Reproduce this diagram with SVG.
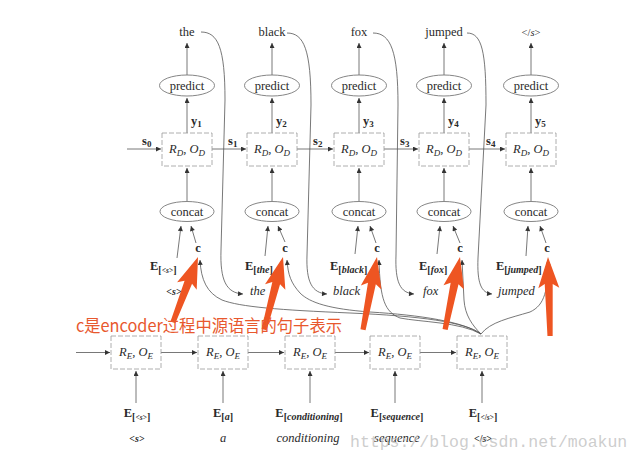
<svg xmlns="http://www.w3.org/2000/svg" width="640" height="463" viewBox="0 0 640 463">
<defs>
<marker id="ah" viewBox="0 0 10 10" refX="10" refY="5" markerWidth="6" markerHeight="5" orient="auto" markerUnits="userSpaceOnUse"><path d="M0,0 L10,5 L0,10 z" fill="#333"/></marker>
<style>
.t{font-family:"Liberation Serif",serif;font-size:12.5px;fill:#2a2a2a}
.it{font-style:italic}
.b{font-weight:bold}
.sub{font-size:9px}
.esub{font-size:10px}
.ln{stroke:#666;stroke-width:0.8;fill:none}
.ar{stroke:#555;stroke-width:0.8;fill:none;marker-end:url(#ah)}
.el{fill:#fff;stroke:#777;stroke-width:0.9}
.bx{fill:#fff;stroke:#999;stroke-width:0.8;stroke-dasharray:5 2}
.oa{fill:#ee5522}
</style>
</defs>
<rect width="640" height="463" fill="#fff"/>

<g id="connectors">
<line class="ar" x1="187" y1="75" x2="187" y2="43"/>
<line class="ar" x1="272" y1="75" x2="272" y2="43"/>
<line class="ar" x1="359" y1="75" x2="359" y2="43"/>
<line class="ar" x1="444" y1="75" x2="444" y2="43"/>
<line class="ar" x1="531" y1="75" x2="531" y2="43"/>
<line class="ar" x1="187" y1="133" x2="187" y2="98"/>
<line class="ar" x1="272" y1="133" x2="272" y2="98"/>
<line class="ar" x1="359" y1="133" x2="359" y2="98"/>
<line class="ar" x1="444" y1="133" x2="444" y2="98"/>
<line class="ar" x1="531" y1="133" x2="531" y2="98"/>
<line class="ar" x1="187" y1="201" x2="187" y2="168"/>
<line class="ar" x1="272" y1="201" x2="272" y2="168"/>
<line class="ar" x1="359" y1="201" x2="359" y2="168"/>
<line class="ar" x1="444" y1="201" x2="444" y2="168"/>
<line class="ar" x1="531" y1="201" x2="531" y2="168"/>
<line class="ar" x1="127" y1="149" x2="161" y2="149"/>
<line class="ar" x1="212" y1="149" x2="246" y2="149"/>
<line class="ar" x1="297" y1="149" x2="333" y2="149"/>
<line class="ar" x1="384" y1="149" x2="418" y2="149"/>
<line class="ar" x1="469" y1="149" x2="505" y2="149"/>
<line class="ar" x1="177" y1="258" x2="181" y2="226"/>
<line class="ar" x1="196" y1="243" x2="191" y2="226"/>
<line class="ar" x1="265" y1="256" x2="268" y2="226"/>
<line class="ar" x1="285" y1="242" x2="278" y2="226"/>
<line class="ar" x1="355" y1="254" x2="358" y2="226"/>
<line class="ar" x1="376" y1="243" x2="370" y2="226"/>
<line class="ar" x1="437" y1="254" x2="440" y2="226"/>
<line class="ar" x1="460" y1="243" x2="453" y2="226"/>
<line class="ar" x1="526" y1="256" x2="528" y2="226"/>
<line class="ar" x1="546" y1="243" x2="540" y2="226"/>
<path class="ar" d="M201,32 C218,32 225,48 225,100 L221,250 C220,280 226,293 243,294"/>
<path class="ar" d="M287,33 C304,33 311,50 311,105 L307,255 C306,282 312,293 327,294"/>
<path class="ar" d="M373,33 C391,33 398,52 398,105 L396,255 C395,282 400,293 414,294"/>
<path class="ar" d="M467,33 C482,33 486,52 486,105 L478,258 C477,283 481,293 492,294"/>
<path class="ar" d="M481,334 C465,322 420,316 350,313 C280,310 240,307 222,300 C207,293 201,280 200,260"/>
<path class="ar" d="M481,334 C465,322 420,315 370,312 C330,309 310,303 300,293 C291,283 288,275 287,260"/>
<path class="ar" d="M481,334 C460,322 420,322 400,318 C385,312 380,300 379,260"/>
<path class="ar" d="M481,334 C472,325 465,315 464,300 L462,260"/>
<path class="ar" d="M481,334 C490,322 510,318 530,312 C545,305 548,290 548,260"/>
<line class="ar" x1="76" y1="352.5" x2="110" y2="352.5"/>
<line class="ar" x1="161" y1="352.5" x2="197" y2="352.5"/>
<line class="ar" x1="248" y1="352.5" x2="284" y2="352.5"/>
<line class="ar" x1="335" y1="352.5" x2="369" y2="352.5"/>
<line class="ar" x1="420" y1="352.5" x2="456" y2="352.5"/>
<line class="ar" x1="136" y1="403" x2="136" y2="371"/>
<line class="ar" x1="223" y1="403" x2="223" y2="371"/>
<line class="ar" x1="310" y1="403" x2="310" y2="371"/>
<line class="ar" x1="395" y1="403" x2="395" y2="371"/>
<line class="ar" x1="482" y1="403" x2="482" y2="371"/>
</g>

<g id="out-words" class="t" text-anchor="middle">
<text x="187" y="36">the</text>
<text x="272" y="36">black</text>
<text x="359" y="36">fox</text>
<text x="444" y="36">jumped</text>
<text x="531" y="36" font-size="10.5">&lt;/<tspan font-style="italic">s</tspan>&gt;</text>
</g>

<g id="predict1"><ellipse class="el" cx="187" cy="85.5" rx="27.5" ry="10.5"/><text class="t" x="187" y="90" text-anchor="middle">predict</text></g>
<g id="predict2"><ellipse class="el" cx="272" cy="85.5" rx="27.5" ry="10.5"/><text class="t" x="272" y="90" text-anchor="middle">predict</text></g>
<g id="predict3"><ellipse class="el" cx="359" cy="85.5" rx="27.5" ry="10.5"/><text class="t" x="359" y="90" text-anchor="middle">predict</text></g>
<g id="predict4"><ellipse class="el" cx="444" cy="85.5" rx="27.5" ry="10.5"/><text class="t" x="444" y="90" text-anchor="middle">predict</text></g>
<g id="predict5"><ellipse class="el" cx="531" cy="85.5" rx="27.5" ry="10.5"/><text class="t" x="531" y="90" text-anchor="middle">predict</text></g>

<g id="y-labels" class="t b">
<text x="191" y="125">y<tspan class="sub" dy="2">1</tspan></text>
<text x="276" y="125">y<tspan class="sub" dy="2">2</tspan></text>
<text x="363" y="125">y<tspan class="sub" dy="2">3</tspan></text>
<text x="448" y="125">y<tspan class="sub" dy="2">4</tspan></text>
<text x="535" y="125">y<tspan class="sub" dy="2">5</tspan></text>
</g>

<g id="s-labels" class="t b">
<text x="142" y="145">s<tspan class="sub" dy="2">0</tspan></text>
<text x="228" y="145">s<tspan class="sub" dy="2">1</tspan></text>
<text x="313" y="145">s<tspan class="sub" dy="2">2</tspan></text>
<text x="400" y="145">s<tspan class="sub" dy="2">3</tspan></text>
<text x="486" y="145">s<tspan class="sub" dy="2">4</tspan></text>
</g>

<g id="dec1"><rect class="bx" x="162" y="133" width="50" height="33"/><text class="t it" x="187" y="153" text-anchor="middle">R<tspan class="sub" dy="3">D</tspan><tspan dy="-3">, O</tspan><tspan class="sub" dy="3">D</tspan></text></g>
<g id="dec2"><rect class="bx" x="247" y="133" width="50" height="33"/><text class="t it" x="272" y="153" text-anchor="middle">R<tspan class="sub" dy="3">D</tspan><tspan dy="-3">, O</tspan><tspan class="sub" dy="3">D</tspan></text></g>
<g id="dec3"><rect class="bx" x="334" y="133" width="50" height="33"/><text class="t it" x="359" y="153" text-anchor="middle">R<tspan class="sub" dy="3">D</tspan><tspan dy="-3">, O</tspan><tspan class="sub" dy="3">D</tspan></text></g>
<g id="dec4"><rect class="bx" x="419" y="133" width="50" height="33"/><text class="t it" x="444" y="153" text-anchor="middle">R<tspan class="sub" dy="3">D</tspan><tspan dy="-3">, O</tspan><tspan class="sub" dy="3">D</tspan></text></g>
<g id="dec5"><rect class="bx" x="506" y="133" width="50" height="33"/><text class="t it" x="531" y="153" text-anchor="middle">R<tspan class="sub" dy="3">D</tspan><tspan dy="-3">, O</tspan><tspan class="sub" dy="3">D</tspan></text></g>

<g id="concat1"><ellipse class="el" cx="187" cy="211.5" rx="27" ry="10"/><text class="t" x="187" y="216" text-anchor="middle">concat</text></g>
<g id="concat2"><ellipse class="el" cx="272" cy="211.5" rx="27" ry="10"/><text class="t" x="272" y="216" text-anchor="middle">concat</text></g>
<g id="concat3"><ellipse class="el" cx="359" cy="211.5" rx="27" ry="10"/><text class="t" x="359" y="216" text-anchor="middle">concat</text></g>
<g id="concat4"><ellipse class="el" cx="444" cy="211.5" rx="27" ry="10"/><text class="t" x="444" y="216" text-anchor="middle">concat</text></g>
<g id="concat5"><ellipse class="el" cx="531" cy="211.5" rx="27" ry="10"/><text class="t" x="531" y="216" text-anchor="middle">concat</text></g>

<g id="c-labels" class="t b" text-anchor="middle" font-size="14">
<text x="198" y="252">c</text>
<text x="285" y="252">c</text>
<text x="377" y="252">c</text>
<text x="460" y="252">c</text>
<text x="547" y="252">c</text>
</g>

<g id="dec-emb" class="t b" font-size="14">
<text x="150" y="270">E<tspan class="esub" dy="3">[<tspan font-size="7.5">&lt;<tspan font-style="italic">s</tspan>&gt;</tspan>]</tspan></text>
<text x="245" y="270">E<tspan class="esub" dy="3">[<tspan font-style="italic">the</tspan>]</tspan></text>
<text x="330" y="270">E<tspan class="esub" dy="3">[<tspan font-style="italic">black</tspan>]</tspan></text>
<text x="419" y="270">E<tspan class="esub" dy="3">[<tspan font-style="italic">fox</tspan>]</tspan></text>
<text x="496" y="270">E<tspan class="esub" dy="3">[<tspan font-style="italic">jumped</tspan>]</tspan></text>
</g>

<g id="dec-in-words" class="t it" font-size="12.5">
<text x="174" y="295" text-anchor="middle" font-style="normal" font-weight="bold" font-size="10">&lt;<tspan font-style="italic">s</tspan>&gt;</text>
<text x="250" y="295">the</text>
<text x="333" y="295">black</text>
<text x="423" y="295">fox</text>
<text x="498" y="295">jumped</text>
</g>

<g id="enc1"><rect class="bx" x="111" y="336" width="50" height="33"/><text class="t it" x="136" y="356" text-anchor="middle">R<tspan class="sub" dy="3">E</tspan><tspan dy="-3">, O</tspan><tspan class="sub" dy="3">E</tspan></text></g>
<g id="enc2"><rect class="bx" x="198" y="336" width="50" height="33"/><text class="t it" x="223" y="356" text-anchor="middle">R<tspan class="sub" dy="3">E</tspan><tspan dy="-3">, O</tspan><tspan class="sub" dy="3">E</tspan></text></g>
<g id="enc3"><rect class="bx" x="285" y="336" width="50" height="33"/><text class="t it" x="310" y="356" text-anchor="middle">R<tspan class="sub" dy="3">E</tspan><tspan dy="-3">, O</tspan><tspan class="sub" dy="3">E</tspan></text></g>
<g id="enc4"><rect class="bx" x="370" y="336" width="50" height="33"/><text class="t it" x="395" y="356" text-anchor="middle">R<tspan class="sub" dy="3">E</tspan><tspan dy="-3">, O</tspan><tspan class="sub" dy="3">E</tspan></text></g>
<g id="enc5"><rect class="bx" x="457" y="336" width="50" height="33"/><text class="t it" x="482" y="356" text-anchor="middle">R<tspan class="sub" dy="3">E</tspan><tspan dy="-3">, O</tspan><tspan class="sub" dy="3">E</tspan></text></g>

<g id="enc-emb" class="t b" text-anchor="middle" font-size="14">
<text x="137" y="417">E<tspan class="esub" dy="3">[<tspan font-size="7.5">&lt;<tspan font-style="italic">s</tspan>&gt;</tspan>]</tspan></text>
<text x="223" y="417">E<tspan class="esub" dy="3">[<tspan font-style="italic">a</tspan>]</tspan></text>
<text x="309" y="417">E<tspan class="esub" dy="3">[<tspan font-style="italic">conditioning</tspan>]</tspan></text>
<text x="397" y="417">E<tspan class="esub" dy="3">[<tspan font-style="italic">sequence</tspan>]</tspan></text>
<text x="483" y="417">E<tspan class="esub" dy="3">[<tspan font-size="7.5">&lt;/<tspan font-style="italic">s</tspan>&gt;</tspan>]</tspan></text>
</g>

<g id="enc-words" class="t it" font-size="12.5" text-anchor="middle">
<text x="137" y="442" font-style="normal" font-weight="bold" font-size="10">&lt;<tspan font-style="italic">s</tspan>&gt;</text>
<text x="223" y="442">a</text>
<text x="308" y="442">conditioning</text>
<text x="397" y="442">sequence</text>
<text x="483" y="442" font-style="normal" font-weight="bold" font-size="10">&lt;/<tspan font-style="italic">s</tspan>&gt;</text>
</g>

<text id="watermark" x="350" y="447" font-family="'Liberation Mono',monospace" font-size="16.5" fill="#c4c4c4" fill-opacity="0.85">https://blog.csdn.net/moakun</text>

<g id="annotation-arrows" class="oa">
<path transform="translate(198,257) rotate(21)" d="M0,0 L10.5,31 L4,27 L2.6,70 L-2.6,70 L-4,27 L-10.5,31 Z"/>
<path transform="translate(283,257) rotate(14.6)" d="M0,0 L10.5,31 L4,27 L2.6,75 L-2.6,75 L-4,27 L-10.5,31 Z"/>
<path transform="translate(377,257) rotate(10.9)" d="M0,0 L10.5,31 L4,27 L2.6,74 L-2.6,74 L-4,27 L-10.5,31 Z"/>
<path transform="translate(460,257) rotate(11.6)" d="M0,0 L10.5,31 L4,27 L2.6,74 L-2.6,74 L-4,27 L-10.5,31 Z"/>
<path transform="translate(548,257) rotate(-1.5)" d="M0,0 L10.5,31 L4,27 L2.6,79 L-2.6,79 L-4,27 L-10.5,31 Z"/>
</g>

<text id="annotation" x="76" y="332" font-family="'Noto Sans CJK SC','Noto Sans',sans-serif" font-size="17" fill="#e8582e" textLength="266" lengthAdjust="spacingAndGlyphs">c是encoder过程中源语言的句子表示</text>
</svg>
